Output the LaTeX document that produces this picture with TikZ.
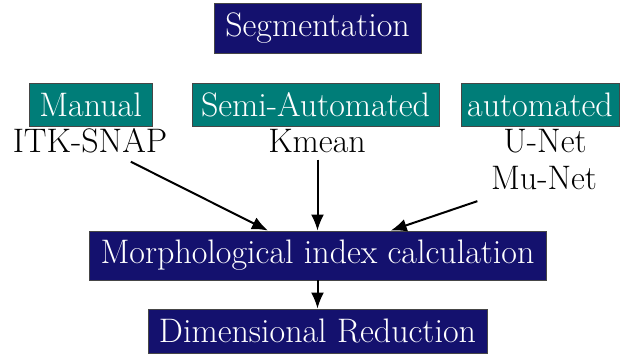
\documentclass[tikz,border=0pt]{standalone}
\usetikzlibrary{arrows.meta}
\definecolor{navybox}{RGB}{20,17,110}
\definecolor{tealbox}{RGB}{0,125,120}
\definecolor{boxline}{RGB}{70,70,70}
\tikzset{
  bigfont/.style={font=\fontsize{17}{18.5}\selectfont},
  navy/.style={bigfont, draw=boxline, line width=0.4pt, fill=navybox, text=white, inner sep=0pt},
  tealb/.style={bigfont, draw=boxline, line width=0.4pt, fill=tealbox, text=white, inner sep=0pt},
  plain/.style={bigfont, anchor=base, inner sep=3pt},
  arr/.style={-{Latex[length=8pt,width=6.5pt]}, line width=1pt, black},
}
\begin{document}
\begin{tikzpicture}[x=0.5pt,y=-0.5pt]
\useasboundingbox (0,0) rectangle (623,356);
\node[navy, minimum width=103.5pt, minimum height=25pt] (seg) at (317.5,28) {Segmentation};
\node[tealb, minimum width=61.5pt, minimum height=21.5pt] (manual) at (90.5,104.5) {Manual};
\node[tealb, minimum width=123.5pt, minimum height=21.5pt] (semi) at (315.5,104.5) {Semi-Automated};
\node[tealb, minimum width=79pt, minimum height=21.5pt] (auto) at (540,104.5) {automated};
\node[plain] (itk) at (90,153) {ITK-SNAP};
\node[plain] (kmean) at (317,153) {Kmean};
\node[plain] (unet) at (545,153) {U-Net};
\node[plain] (munet) at (544,190) {Mu-Net};
\node[navy, minimum width=228.5pt, minimum height=24.5pt] (morph) at (317.5,255.5) {Morphological index calculation};
\node[navy, minimum width=169.5pt, minimum height=22pt] (dim) at (317.5,331) {Dimensional Reduction};
\draw[arr, shorten <=2pt] (itk) -- (morph);
\draw[arr] (kmean.south -| morph.north) -- (morph.north);
\draw[arr, shorten <=7pt] (munet) -- (morph);
\draw[arr] (morph) -- (dim);
\end{tikzpicture}
\end{document}
